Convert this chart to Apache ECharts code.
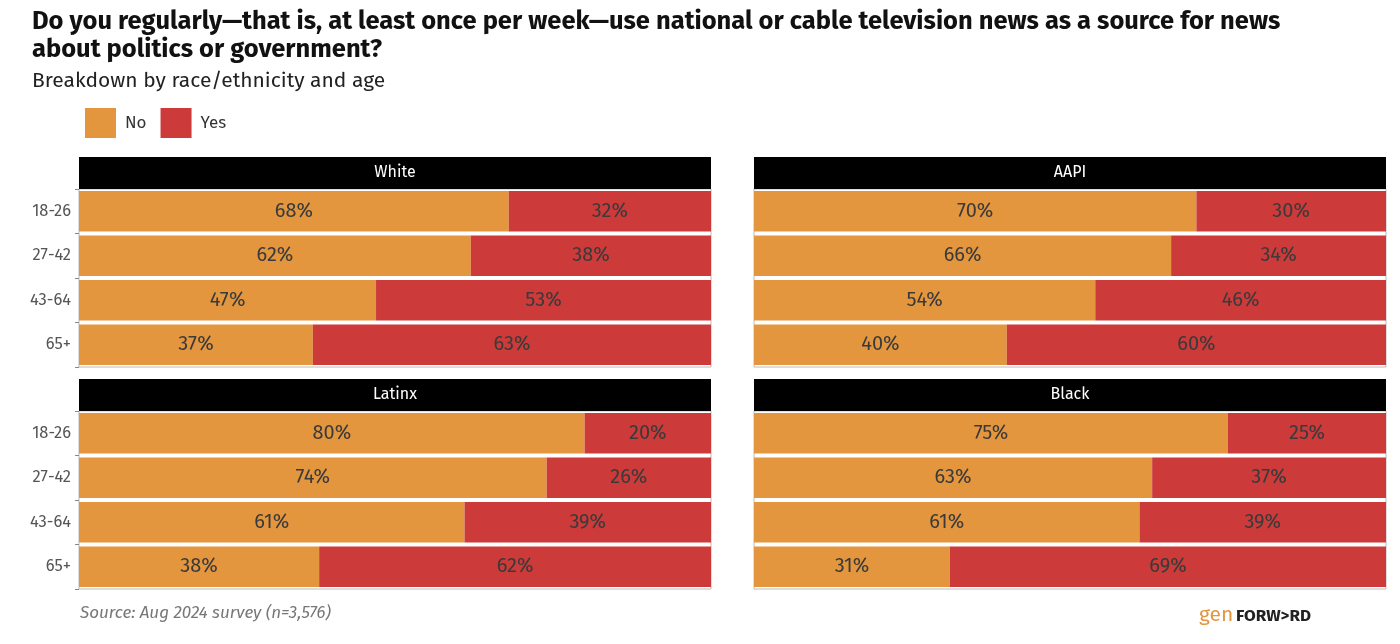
<!DOCTYPE html>
<html lang="en">
<head>
  <meta charset="UTF-8">
  <title>TV news by race and age</title>
  <script src="https://cdn.jsdelivr.net/npm/echarts@6/dist/echarts.min.js"></script>
  <style>
    body { margin: 0; background: #fff; }
    #chart { width: 1400px; height: 644px; }
  </style>
</head>
<body>
<div id="chart"></div>
<script>
  const ages = ['18-26', '27-42', '43-64', '65+'];
  const groups = ['White', 'AAPI', 'Latinx', 'Black'];
  const noVals = [
    [68, 62, 47, 37],
    [70, 66, 54, 40],
    [80, 74, 61, 38],
    [75, 63, 61, 31]
  ];
  const yesVals = [
    [32, 38, 53, 63],
    [30, 34, 46, 60],
    [20, 26, 39, 62],
    [25, 37, 39, 69]
  ];

  const font = 'Fira Sans, "Open Sans", "Noto Sans", sans-serif';
  // panel boxes: left, top of bars
  const boxes = [
    {x: 79, y: 189}, {x: 754, y: 189},
    {x: 79, y: 411}, {x: 754, y: 411}
  ];
  const W = 632, H = 178, HEAD = 32;

  const grids = [], xAxes = [], yAxes = [], series = [], graphics = [];
  boxes.forEach(function (b, i) {
    const leftCol = i % 2 === 0;
    grids.push({left: b.x, top: b.y, width: W, height: H, show: true,
      borderColor: '#bbb', borderWidth: 1, backgroundColor: 'transparent'});
    xAxes.push({type: 'value', gridIndex: i, min: 0, max: 100, show: false});
    yAxes.push({
      type: 'category', gridIndex: i, data: ages, inverse: true,
      axisLine: {show: false},
      axisTick: {show: leftCol, length: 4, lineStyle: {color: '#888'}},
      axisLabel: {show: leftCol, color: '#555', fontSize: 16.5, fontFamily: font, margin: 8}
    });
    const lbl = {show: true, position: 'inside', color: '#3a3a3a', fontSize: 20, fontFamily: font};
    series.push({
      name: 'No', type: 'bar', stack: 's' + i, xAxisIndex: i, yAxisIndex: i,
      data: noVals[i], itemStyle: {color: '#E3963E'}, barCategoryGap: '9%',
      label: Object.assign({formatter: '{c}%'}, lbl)
    });
    series.push({
      name: 'Yes', type: 'bar', stack: 's' + i, xAxisIndex: i, yAxisIndex: i,
      data: yesVals[i], itemStyle: {color: '#CC3A3A'}, barCategoryGap: '9%',
      label: Object.assign({formatter: '{c}%'}, lbl)
    });
    graphics.push({type: 'rect', shape: {x: b.x, y: b.y - HEAD, width: W, height: HEAD},
      style: {fill: '#000'}});
    graphics.push({type: 'text', x: b.x + W / 2, y: b.y - HEAD / 2,
      style: {text: groups[i], fill: '#fff', fontSize: 16, fontFamily: font,
        align: 'center', verticalAlign: 'middle'}});
  });

  graphics.push({type: 'text', x: 80, y: 605,
    style: {text: 'Source: Aug 2024 survey (n=3,576)', fill: '#777', fontSize: 17,
      fontStyle: 'italic', fontFamily: font}});
  graphics.push({type: 'text', x: 1199, y: 605,
    style: {text: 'gen', fill: '#E3963E', fontSize: 21, fontFamily: font}});
  graphics.push({type: 'text', x: 1236, y: 608,
    style: {text: 'FORW>RD', fill: '#222', fontSize: 17, fontWeight: 'bold', fontFamily: font}});

  const chart = echarts.init(document.getElementById('chart'));
  chart.setOption({
    animation: false,
    title: [{
      text: 'Do you regularly\u2014that is, at least once per week\u2014use national or cable television news as a source for news\nabout politics or government?',
      left: 27, top: 3,
      textStyle: {fontSize: 25.5, fontWeight: 'bold', color: '#111', fontFamily: font, lineHeight: 28}
    }, {
      text: 'Breakdown by race/ethnicity and age',
      left: 27, top: 66,
      textStyle: {fontSize: 21, fontWeight: 'normal', color: '#222', fontFamily: font}
    }],
    legend: {
      left: 80, top: 103, itemWidth: 31, itemHeight: 30, itemGap: 14,
      icon: 'rect', data: ['No', 'Yes'],
      textStyle: {fontSize: 17, color: '#333', fontFamily: font, padding: [0, 0, 0, 4]}
    },
    grid: grids, xAxis: xAxes, yAxis: yAxes, series: series,
    graphic: graphics
  });
</script>
</body>
</html>
